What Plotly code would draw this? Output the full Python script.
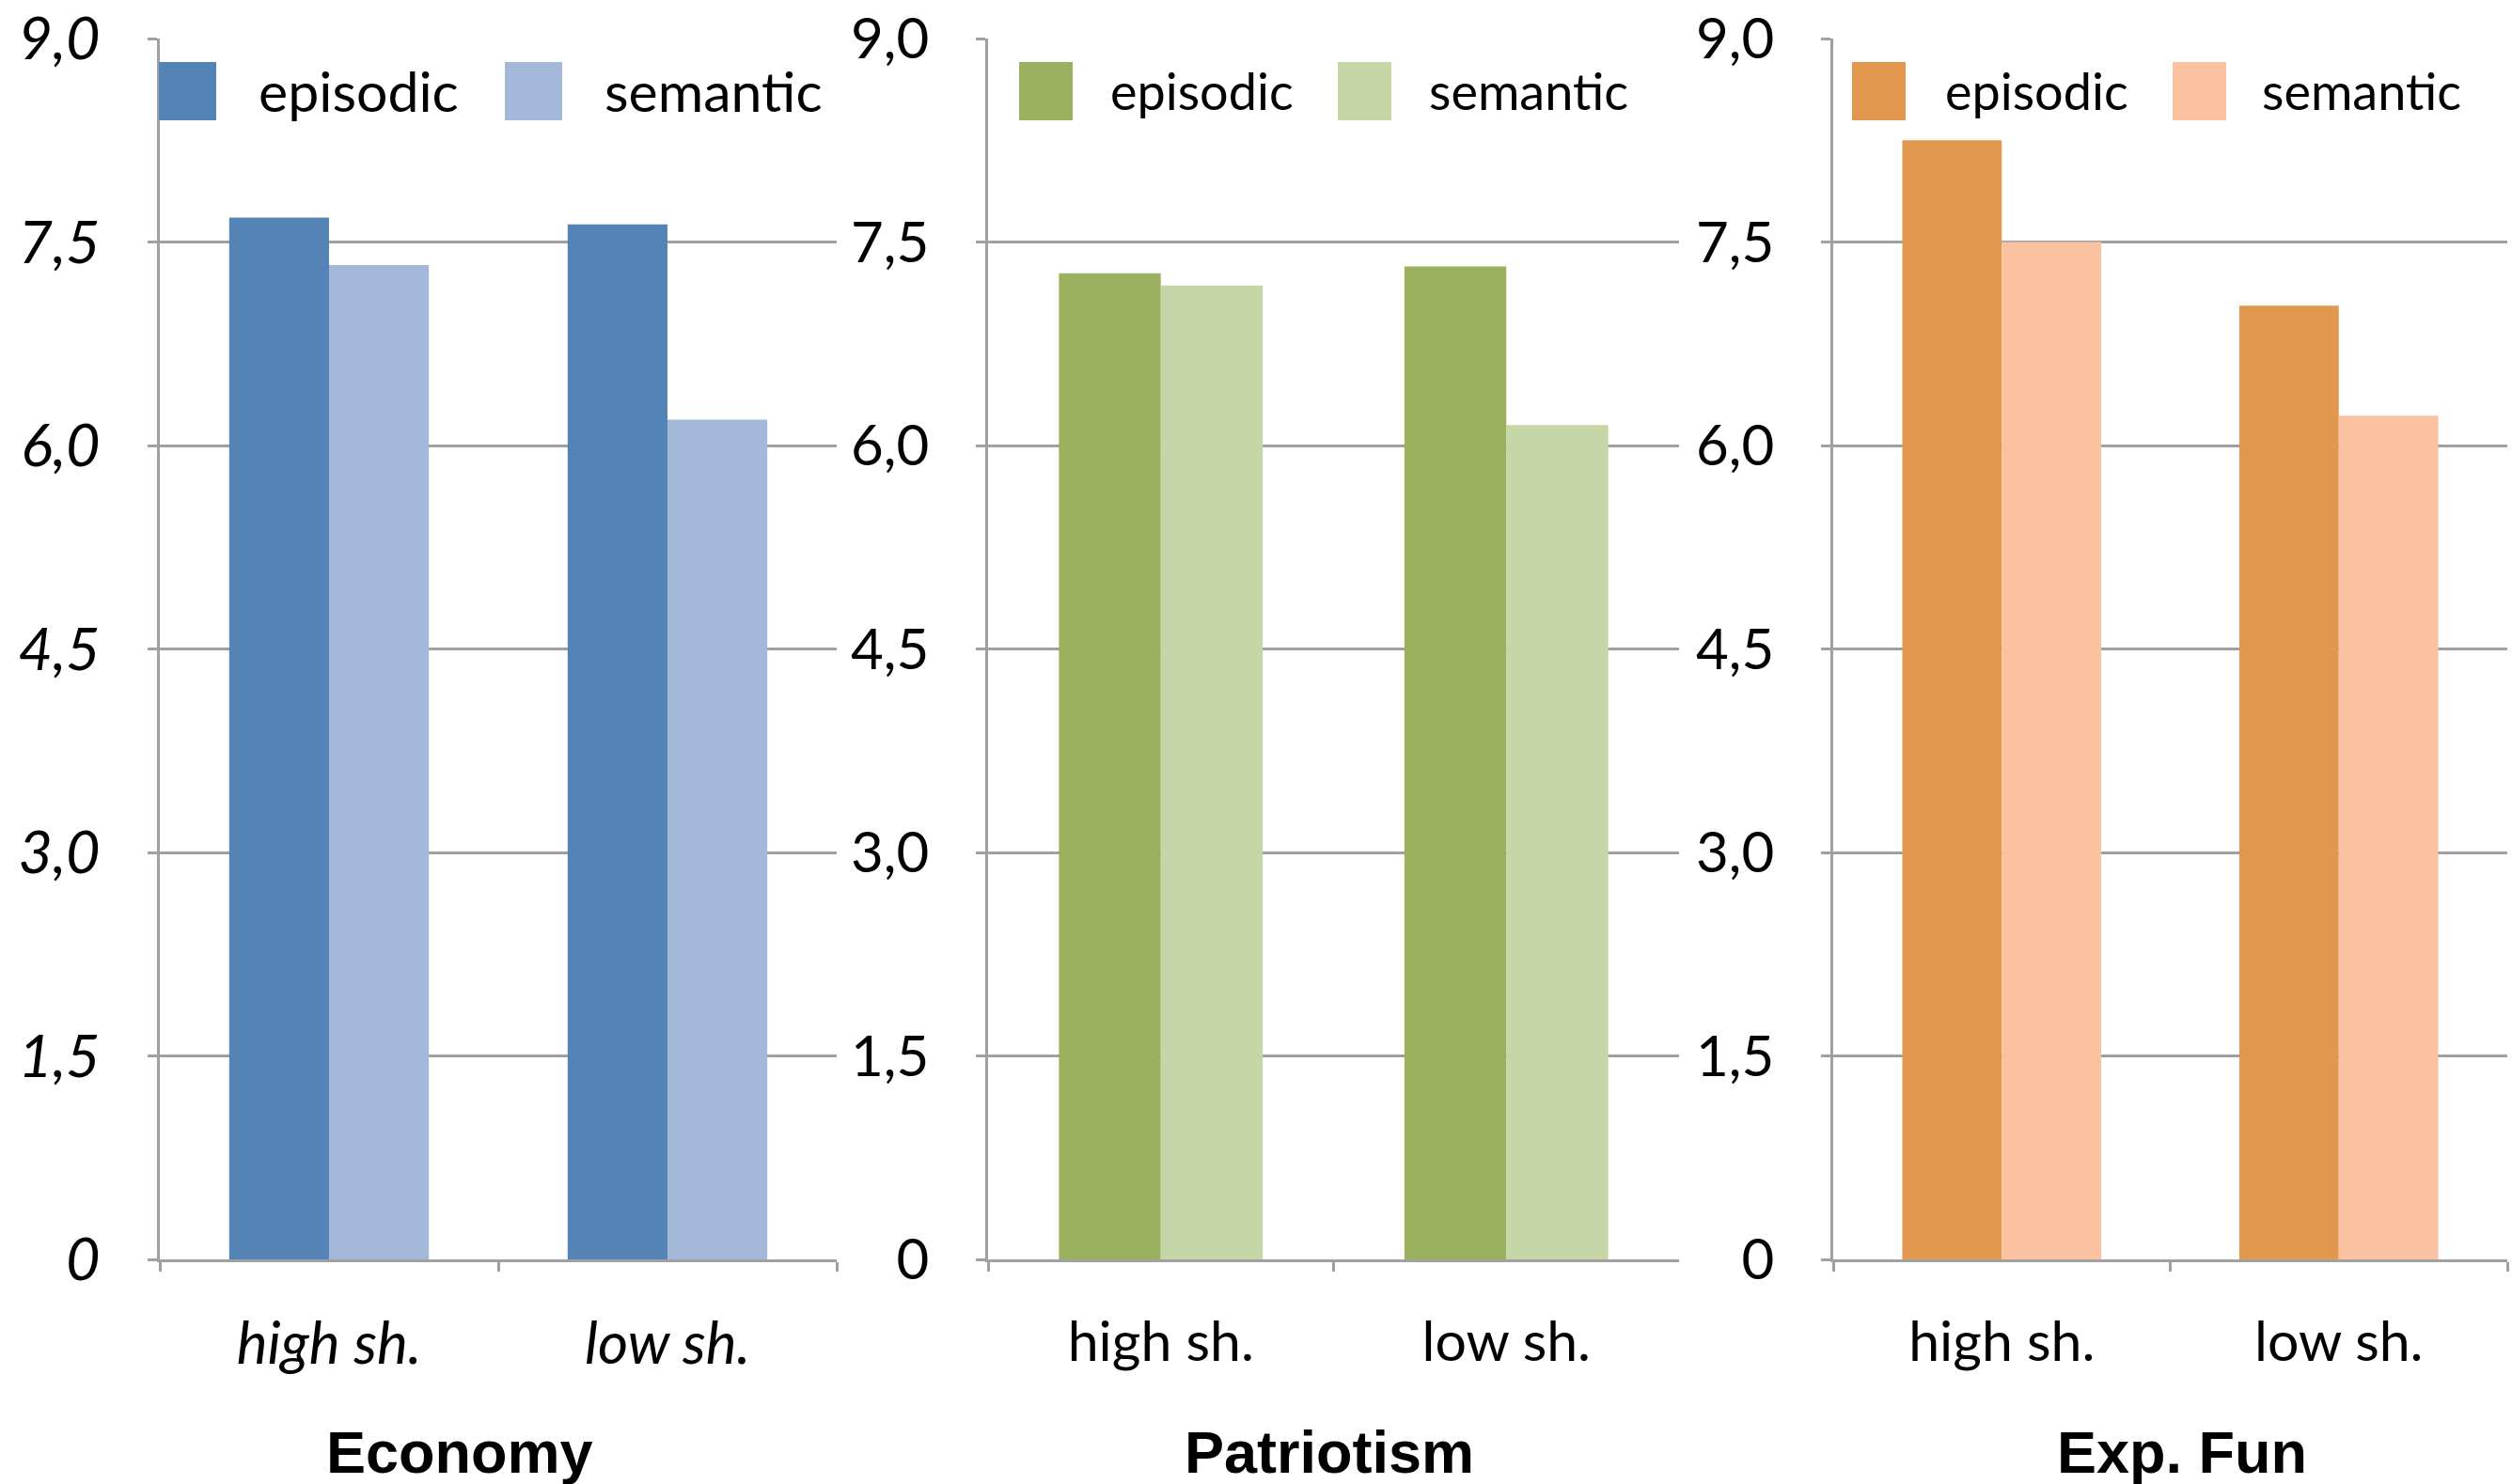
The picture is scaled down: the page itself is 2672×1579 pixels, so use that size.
import plotly.graph_objects as go

# ---------------- data ----------------
categories = ["high sh.", "low sh."]
panel_titles = ["Economy", "Patriotism", "Exp. Fun"]
series_names = ["episodic", "semantic"]

economy_episodic = [7.68, 7.63]
economy_semantic = [7.33, 6.19]
patriotism_episodic = [7.27, 7.32]
patriotism_semantic = [7.18, 6.15]
expfun_episodic = [8.25, 7.03]
expfun_semantic = [7.50, 6.22]

y_tickvals = [0, 1.5, 3.0, 4.5, 6.0, 7.5, 9.0]
y_ticktext = ["0", "1,5", "3,0", "4,5", "6,0", "7,5", "9,0"]

economy_colors = ["#5484B5", "#A4B8D9"]
patriotism_colors = ["#9CB160", "#C6D6A6"]
expfun_colors = ["#E2974F", "#FAC2A0"]

# ---------------- layout helpers ----------------
W, H = 2672, 1579
def px(x):
    return x / W
def py(y):
    return 1 - y / H

panel_px = [(170, 890), (1051, 1786), (1950, 2667)]
y_top, y_bot = 41, 1340          # pixel rows of 9.0 and 0
GRID = "#A0A0A0"
FONT = "Lato"
TITLE_FONT = "Liberation Sans"

panels = [
    (economy_episodic, economy_semantic, economy_colors, True),
    (patriotism_episodic, patriotism_semantic, patriotism_colors, False),
    (expfun_episodic, expfun_semantic, expfun_colors, False),
]

fig = go.Figure()
shapes = []
annotations = []

legend_pos = [
    dict(sq=[(169, 230), (537, 598)], tx=[273, 641], fs=59),
    dict(sq=[(1084, 1141), (1423, 1480)], tx=[1179, 1518], fs=54),
    dict(sq=[(1970, 2027), (2311, 2368)], tx=[2067, 2404], fs=54),
]
title_x = [489, 1414, 2321]

for i, (ep, se, cols, italic) in enumerate(panels):
    k = "" if i == 0 else str(i + 1)
    xa, ya = "x" + k, "y" + k
    style = "italic" if italic else "normal"
    tsize = 63 if italic else 60
    csize = 62 if italic else 59
    for vals, name, col in zip([ep, se], series_names, cols):
        fig.add_trace(go.Bar(
            x=categories, y=vals, name=name, marker=dict(color=col, line=dict(width=0)),
            xaxis=xa, yaxis=ya, showlegend=False,
        ))
    x0, x1 = panel_px[i]
    fig.layout["xaxis" + k] = dict(
        domain=[px(x0), px(x1)], anchor=ya, type="category", automargin=False,
        showline=True, linecolor=GRID, linewidth=2.5,
        ticks="outside", tickson="boundaries", ticklen=10, tickwidth=2.5, tickcolor=GRID,
        showgrid=False, tickfont=dict(family=FONT, size=csize, color="black", style=style),
        ticklabelstandoff=34, ticklabeloverflow="allow",
    )
    fig.layout["yaxis" + k] = dict(
        domain=[py(y_bot), py(y_top)], anchor=xa, range=[0, 9], automargin=False,
        tickvals=y_tickvals, ticktext=y_ticktext,
        showline=True, linecolor=GRID, linewidth=2.5,
        showgrid=True, gridcolor=GRID, gridwidth=2.5, zeroline=False,
        ticks="outside", ticklen=10, tickwidth=2.5, tickcolor=GRID,
        tickfont=dict(family=FONT, size=tsize, color="black", style=style),
        ticklabelstandoff=38, ticklabeloverflow="allow",
    )
    lp = legend_pos[i]
    for j in range(2):
        sx0, sx1 = lp["sq"][j]
        shapes.append(dict(type="rect", xref="paper", yref="paper",
                           x0=px(sx0), x1=px(sx1), y0=py(128), y1=py(66),
                           fillcolor=cols[j], line=dict(width=0), layer="above"))
        annotations.append(dict(text=series_names[j], xref="paper", yref="paper",
                                x=px(lp["tx"][j]), y=py(97), xanchor="left", yanchor="middle",
                                showarrow=False,
                                font=dict(family=FONT, size=lp["fs"], color="black")))
    annotations.append(dict(text="<b>" + panel_titles[i] + "</b>", xref="paper", yref="paper",
                            x=px(title_x[i]), y=py(1545), xanchor="center", yanchor="middle",
                            showarrow=False,
                            font=dict(family=TITLE_FONT, size=63, color="black")))

fig.update_layout(
    width=W, height=H,
    margin=dict(l=0, r=0, t=0, b=0),
    paper_bgcolor="white", plot_bgcolor="white",
    barmode="group", bargap=0.41, bargroupgap=0,
    shapes=shapes, annotations=annotations,
    showlegend=False,
)

fig.write_html("out.html")
